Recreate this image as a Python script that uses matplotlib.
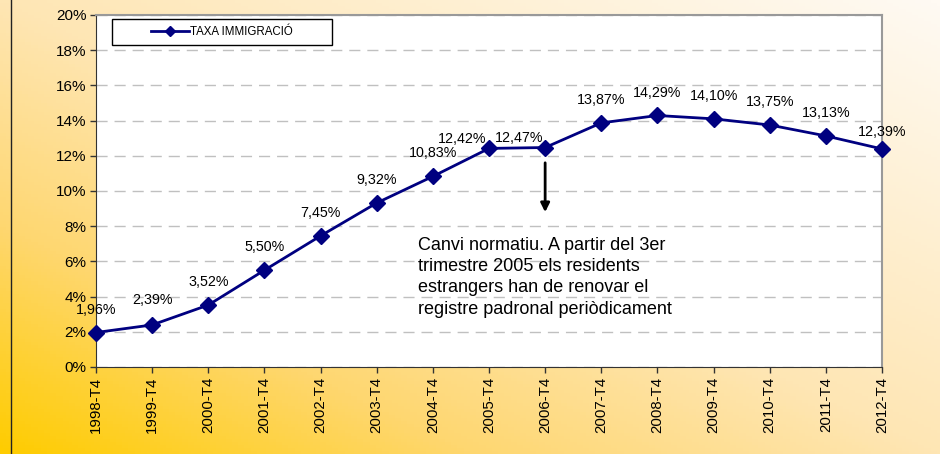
import matplotlib
matplotlib.use("Agg")
import matplotlib.pyplot as plt
import numpy as np
from matplotlib.colors import LinearSegmentedColormap
from matplotlib.patches import Rectangle
from matplotlib.lines import Line2D

plt.rcParams['font.family'] = ['Liberation Sans', 'DejaVu Sans']

# data
periods = ["1998-T4", "1999-T4", "2000-T4", "2001-T4", "2002-T4", "2003-T4", "2004-T4",
           "2005-T4", "2006-T4", "2007-T4", "2008-T4", "2009-T4", "2010-T4", "2011-T4", "2012-T4"]
taxa = [1.96, 2.39, 3.52, 5.50, 7.45, 9.32, 10.83, 12.42, 12.47, 13.87, 14.29, 14.10, 13.75, 13.13, 12.39]
series_name = "TAXA IMMIGRACIÓ"
note = ("Canvi normatiu. A partir del 3er\ntrimestre 2005 els residents\n"
        "estrangers han de renovar el\nregistre padronal periòdicament")

fig = plt.figure(figsize=(9.4, 4.54), dpi=100)

# diagonal background gradient: yellow bottom-left -> cream top-right
bg = fig.add_axes([0, 0, 1, 1], zorder=-10)
gx, gy = np.meshgrid(np.linspace(0, 1, 300), np.linspace(0, 1, 150))
t = (gx + gy) / 2
cmap = LinearSegmentedColormap.from_list(
    "bg", [(0, "#FFCC00"), (0.25, "#FED770"), (0.5, "#FEE6B4"), (1, "#FFFAF3")])
bg.imshow(t, cmap=cmap, origin="lower", aspect="auto", extent=[0, 1, 0, 1])
bg.set_axis_off()
fig.add_artist(Line2D([10.5 / 940, 10.5 / 940], [0, 1], color="#222222", lw=1))

ax = fig.add_axes([96 / 940, 1 - 367 / 454, 786 / 940, 352 / 454])
ax.set_facecolor("white")
x = np.arange(len(periods))
ax.plot(x, taxa, color="#000080", lw=2, marker="D", markersize=8, clip_on=False, zorder=5,
        label=series_name)

ax.set_xlim(0, len(periods) - 1)
ax.set_ylim(0, 20)
ax.set_yticks(np.arange(0, 21, 2))
ax.set_yticklabels([f"{v}%" for v in range(0, 21, 2)], fontsize=11)
ax.set_xticks(x)
ax.set_xticklabels(periods, rotation=90, fontsize=10.8)
ax.tick_params(axis="both", direction="out", length=4, width=1, color="#333333", pad=3)
ax.yaxis.grid(True, color="#c0c0c0", lw=1, linestyle=(0, (8, 5)))
ax.set_axisbelow(True)
for side in ["left", "bottom"]:
    ax.spines[side].set_color("#333333")
for side in ["top", "right"]:
    ax.spines[side].set_color("#999999")
    ax.spines[side].set_linewidth(1.5)

# data labels (a couple are nudged like in the original)
offsets = {7: (-19, 7), 8: (-19, 7), 14: (0, 12), 1: (0, 18)}
for i, v in enumerate(taxa):
    dx, dy = offsets.get(i, (0, 16.5))
    ax.annotate(f"{v:.2f}%".replace(".", ","), (x[i], v), xytext=(dx, dy),
                textcoords="offset points", ha="center", va="center", fontsize=10.3,
                annotation_clip=False)

# legend in a plain black box
ax.add_patch(Rectangle((0.0204, 0.9148), 0.2796, 0.0738, transform=ax.transAxes,
                       facecolor="white", edgecolor="black", lw=1, zorder=6))
leg = ax.legend(loc="center", bbox_to_anchor=(0.160, 0.9517), frameon=False,
                fontsize=8.3, handlelength=3.3, handletextpad=0.1, markerscale=0.7)
leg.set_zorder(7)

# note with arrow
ax.annotate("", xy=(8, 8.64), xytext=(8, 11.76),
            arrowprops=dict(arrowstyle="-|>", color="black", lw=2, mutation_scale=13))
ax.text(5.74, 7.4, note, fontsize=13, ha="left", va="top", linespacing=1.33)

fig.savefig("out.png", dpi=100)
